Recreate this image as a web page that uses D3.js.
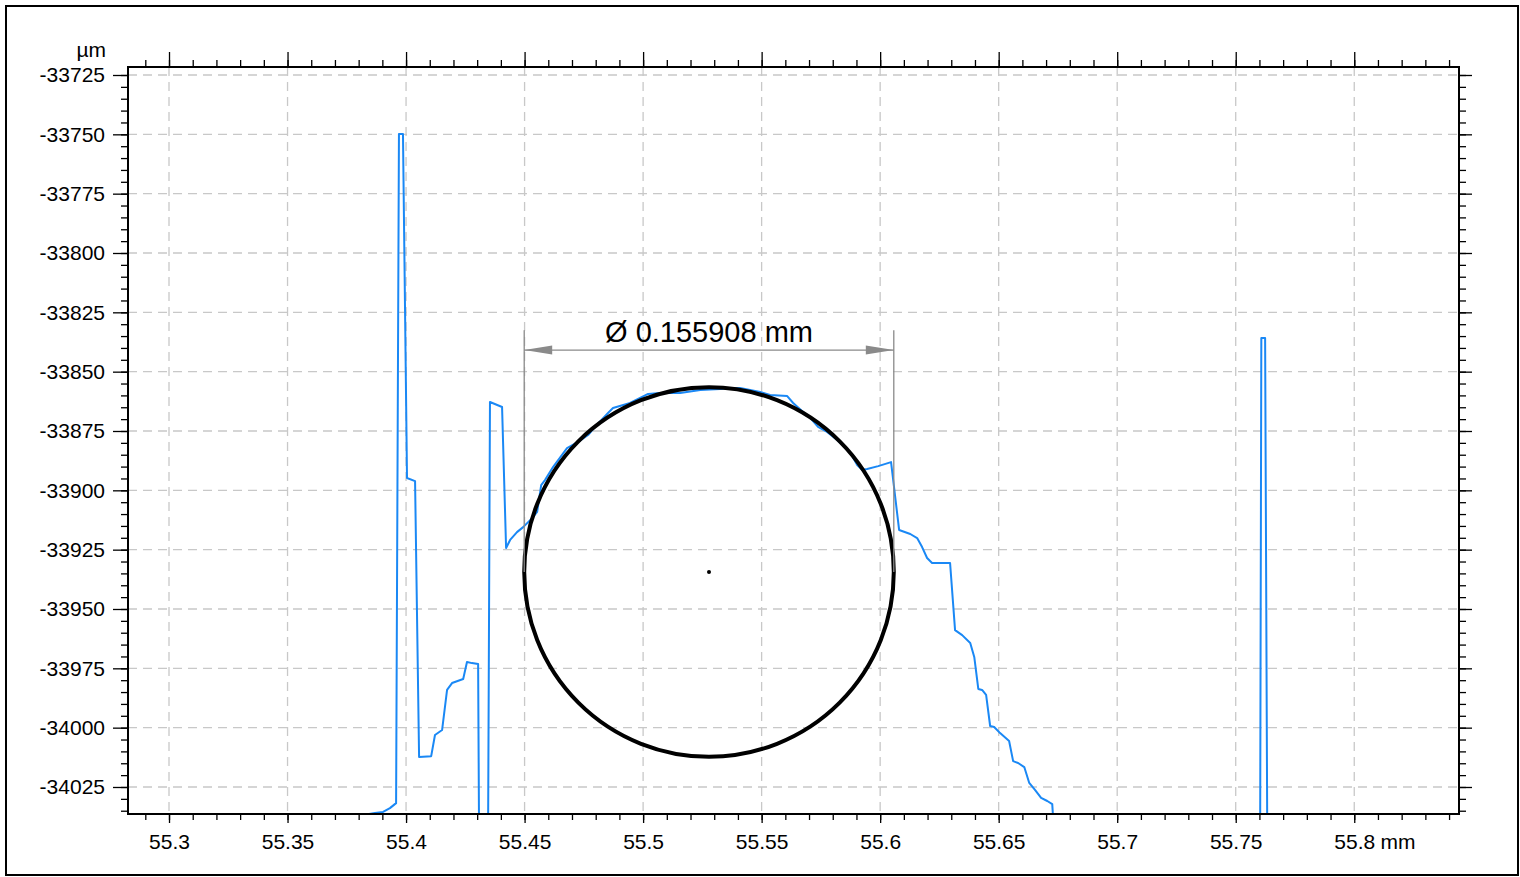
<!DOCTYPE html>
<html>
<head>
<meta charset="utf-8">
<script src="https://cdn.jsdelivr.net/npm/d3@7/dist/d3.min.js"></script>
<style>
  html, body { margin: 0; padding: 0; background: #fff; }
  svg { display: block; font-family: "Liberation Sans", Arial, Helvetica, sans-serif; }
</style>
</head>
<body>
<svg id="chart" width="1520" height="877"></svg>
<script>
// ---------- data ----------
const profileX = [55.3819,55.3869,55.3903,55.3932,55.3958,55.3970,55.3987,55.4004,55.4038,55.4055,55.4106,55.4122,55.4152,55.4173,55.4194,55.4241,55.4257,55.4278,55.4304,55.4308,55.4346,55.4354,55.4405,55.4422,55.4439,55.4468,55.4494,55.4532,55.4553,55.4570,55.4586,55.4620,55.4679,55.4726,55.4768,55.4797,55.4852,55.4873,55.4945,55.5021,55.5072,55.5156,55.5241,55.5325,55.5409,55.5494,55.5536,55.5608,55.5633,55.5675,55.5705,55.5738,55.5776,55.5819,55.5873,55.5903,55.5924,55.5945,55.5992,55.6046,55.6080,55.6127,55.6156,55.6177,55.6198,55.6219,55.6295,55.6316,55.6346,55.6380,55.6397,55.6414,55.6430,55.6447,55.6464,55.6481,55.6506,55.6544,55.6561,55.6582,55.6608,55.6629,55.6654,55.6679,55.6705,55.6726,55.6734,55.7603,55.7608,55.7624,55.7633];
const profileY = [-34036.8,-34036.0,-34035.5,-34033.9,-34031.8,-33749.9,-33749.9,-33894.8,-33896.1,-34012.4,-34012.0,-34003.1,-34001.0,-33984.1,-33981.2,-33979.5,-33972.3,-33972.8,-33973.2,-34045,-34045,-33862.8,-33864.9,-33924.3,-33920.9,-33917.6,-33915.5,-33911.7,-33909.1,-33897.8,-33895.7,-33890.2,-33882.2,-33879.6,-33876.7,-33873.3,-33867.4,-33865.3,-33863.2,-33859.4,-33859.0,-33859.0,-33857.7,-33857.3,-33856.9,-33858.6,-33859.8,-33860.3,-33863.2,-33867.0,-33869.5,-33873.3,-33875.4,-33878.8,-33883.9,-33889.3,-33891.4,-33891.0,-33889.8,-33888.1,-33916.7,-33918.4,-33920.1,-33923.9,-33928.5,-33930.6,-33930.6,-33958.9,-33961.0,-33964.3,-33970.2,-33983.7,-33984.1,-33986.2,-33999.3,-33999.7,-34002.3,-34005.6,-34014.1,-34014.9,-34016.6,-34023.3,-34026.3,-34029.6,-34030.9,-34032.2,-34045,-34045,-33835.8,-33835.8,-34045];

const circleCenterX = 55.5278;   // mm
const circleCenterY = -33934.4;  // µm
const circleDiameter = 0.155908; // mm
const dimensionLabel = "Ø 0.155908 mm";
const dimLineY = -33840.9;       // µm, level of dimension line
const dimExtTopY = -33832.5;     // µm, top of extension lines

const xMajorTicks = [55.3,55.35,55.4,55.45,55.5,55.55,55.6,55.65,55.7,55.75,55.8];
const xMajorLabels = ["55.3","55.35","55.4","55.45","55.5","55.55","55.6","55.65","55.7","55.75","55.8"];
const yMajorTicks = [-33725,-33750,-33775,-33800,-33825,-33850,-33875,-33900,-33925,-33950,-33975,-34000,-34025];
const yMajorLabels = ["-33725","-33750","-33775","-33800","-33825","-33850","-33875","-33900","-33925","-33950","-33975","-34000","-34025"];
const xUnit = "mm";
const yUnit = "µm";

// ---------- layout ----------
const svg = d3.select("#chart");
const L = 128, R = 1459, T = 67, B = 814;
const x = d3.scaleLinear().domain([55.28270, 55.84419]).range([L, R]);
const y = d3.scaleLinear().domain([-34036.38, -33721.63]).range([B, T]);

const xMinor = d3.range(55.29, 55.8445, 0.01).map(v => +v.toFixed(2));
const yMinor = d3.range(-33725, -34036, -5);

// outer frame
svg.append("rect").attr("x", 6).attr("y", 6).attr("width", 1512).attr("height", 869)
  .attr("fill", "none").attr("stroke", "#000").attr("stroke-width", 2);

// grid
const grid = svg.append("g").attr("stroke", "#c8c8c8").attr("stroke-width", 1.3).attr("stroke-dasharray", "9,6");
grid.selectAll("line.vx").data(xMajorTicks).join("line")
  .attr("x1", d => x(d)).attr("x2", d => x(d)).attr("y1", T).attr("y2", B);
grid.selectAll("line.hy").data(yMajorTicks).join("line")
  .attr("x1", L).attr("x2", R).attr("y1", d => y(d)).attr("y2", d => y(d));

// clip
svg.append("clipPath").attr("id", "clip").append("rect")
  .attr("x", L).attr("y", T).attr("width", R - L).attr("height", B - T);

// profile
const pts = profileX.map((v, i) => [v, profileY[i]]);
svg.append("path").attr("clip-path", "url(#clip)")
  .attr("d", d3.line().x(d => x(d[0])).y(d => y(d[1]))(pts))
  .attr("fill", "none").attr("stroke", "#1a88f5").attr("stroke-width", 2).attr("stroke-linejoin", "round");

// fitted circle
const rPx = x(circleCenterX + circleDiameter / 2) - x(circleCenterX);
svg.append("circle").attr("cx", x(circleCenterX)).attr("cy", y(circleCenterY)).attr("r", rPx)
  .attr("fill", "none").attr("stroke", "#000").attr("stroke-width", 4);
svg.append("circle").attr("cx", x(circleCenterX)).attr("cy", y(circleCenterY)).attr("r", 2).attr("fill", "#000");

// dimension
const xl = x(circleCenterX - circleDiameter / 2), xr = x(circleCenterX + circleDiameter / 2);
const dg = svg.append("g");
[xl, xr].forEach(px => {
  dg.append("line").attr("x1", px).attr("x2", px).attr("y1", y(dimExtTopY)).attr("y2", y(circleCenterY))
    .attr("stroke", "#8a8a8a").attr("stroke-width", 1.3);
});
const dy = y(dimLineY);
dg.append("line").attr("x1", xl).attr("x2", xr).attr("y1", dy).attr("y2", dy)
  .attr("stroke", "#8a8a8a").attr("stroke-width", 1.3);
dg.append("path").attr("d", `M${xl},${dy} L${xl + 28},${dy - 4.5} L${xl + 28},${dy + 4.5} Z`).attr("fill", "#8a8a8a");
dg.append("path").attr("d", `M${xr},${dy} L${xr - 28},${dy - 4.5} L${xr - 28},${dy + 4.5} Z`).attr("fill", "#8a8a8a");
dg.append("text").attr("x", (xl + xr) / 2).attr("y", dy - 8).attr("text-anchor", "middle")
  .attr("font-size", 29).attr("fill", "#000").text(dimensionLabel);

// axes
function styleAxis(g) {
  g.select(".domain").remove();
  g.selectAll("line").attr("stroke", "#000").attr("stroke-width", 1.3);
}
// bottom
svg.append("g").attr("transform", `translate(0,${B})`)
  .call(d3.axisBottom(x).tickValues(xMinor).tickSize(6).tickFormat(""))
  .call(styleAxis);
const bx = svg.append("g").attr("transform", `translate(0,${B})`)
  .call(d3.axisBottom(x).tickValues(xMajorTicks).tickSize(9).tickPadding(11)
    .tickFormat((d, i) => xMajorLabels[i]))
  .call(styleAxis);
bx.selectAll("text").attr("font-size", 21).attr("fill", "#000").attr("font-family", "Liberation Sans, Arial, sans-serif");
// top
svg.append("g").attr("transform", `translate(0,${T})`)
  .call(d3.axisTop(x).tickValues(xMinor).tickSize(7).tickFormat("")).call(styleAxis);
svg.append("g").attr("transform", `translate(0,${T})`)
  .call(d3.axisTop(x).tickValues(xMajorTicks).tickSize(15).tickFormat("")).call(styleAxis);
// left
svg.append("g").attr("transform", `translate(${L},0)`)
  .call(d3.axisLeft(y).tickValues(yMinor).tickSize(7).tickFormat("")).call(styleAxis);
const ly = svg.append("g").attr("transform", `translate(${L},0)`)
  .call(d3.axisLeft(y).tickValues(yMajorTicks).tickSize(15).tickPadding(8)
    .tickFormat((d, i) => yMajorLabels[i]))
  .call(styleAxis);
ly.selectAll("text").attr("font-size", 21).attr("fill", "#000").attr("font-family", "Liberation Sans, Arial, sans-serif");
// right
svg.append("g").attr("transform", `translate(${R},0)`)
  .call(d3.axisRight(y).tickValues(yMinor).tickSize(7).tickFormat("")).call(styleAxis);
svg.append("g").attr("transform", `translate(${R},0)`)
  .call(d3.axisRight(y).tickValues(yMajorTicks).tickSize(13).tickFormat("")).call(styleAxis);

// plot frame
svg.append("rect").attr("x", L).attr("y", T).attr("width", R - L).attr("height", B - T)
  .attr("fill", "none").attr("stroke", "#000").attr("stroke-width", 2);

// unit labels
const lastX = bx.selectAll(".tick text").filter(d => d === 55.8);
const lastW = lastX.node().getComputedTextLength();
svg.append("text").attr("x", x(55.8) + lastW / 2).attr("y", B + 9 + 11).attr("dy", "0.71em")
  .attr("font-size", 21).attr("fill", "#000").attr("xml:space", "preserve").text("\u00a0" + xUnit);
svg.append("text").attr("x", L - 15 - 8 + 1).attr("y", y(-33725) - 18)
  .attr("text-anchor", "end").attr("font-size", 21).attr("fill", "#000").text(yUnit);
</script>
</body>
</html>
